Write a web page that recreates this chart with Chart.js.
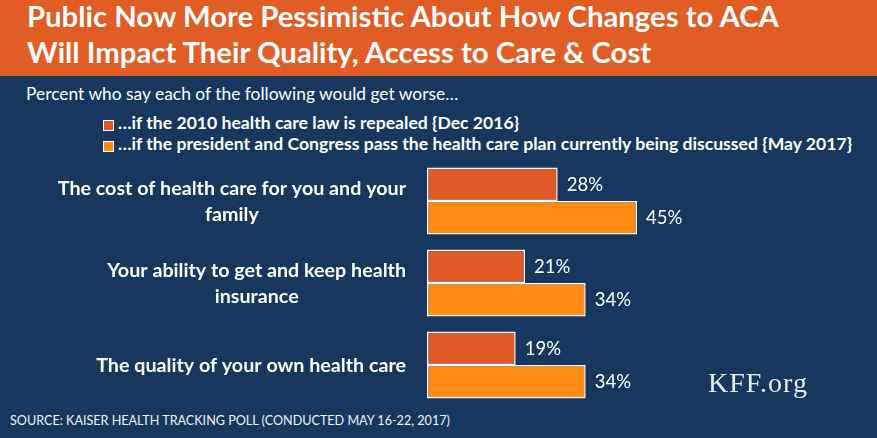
<!DOCTYPE html>
<html>
<head>
<meta charset="utf-8">
<title>Public Now More Pessimistic About How Changes to ACA Will Impact Their Quality, Access to Care &amp; Cost</title>
<script src="https://cdn.jsdelivr.net/npm/chart.js"></script>
<style>
    body { margin: 0; background: #17375e; }
    #page { position: relative; width: 877px; height: 438px; overflow: hidden; background: #17375e; color: #fff; font-family: Lato, "Open Sans", sans-serif; }
    #band { position: absolute; left: 0; top: 0; width: 877px; height: 76px; background: #e05d26; }
    .title { position: absolute; left: 27px; font-size: 29.3px; font-weight: bold; line-height: 1; white-space: nowrap; }
    #subtitle { position: absolute; left: 26px; top: 84.6px; font-size: 17.4px; line-height: 1; white-space: nowrap; }
    #legend { position: absolute; left: 103px; top: 114.4px; }
    .legend-item { position: relative; height: 21px; padding-left: 15px; font-size: 17.6px; font-weight: bold; line-height: 1; white-space: nowrap; }
    .legend-box { position: absolute; left: 0; top: 5.6px; width: 11px; height: 11px; box-sizing: border-box; border: 1px solid #fff; }
    #chart { position: absolute; left: 0; top: 160px; }
    #source { position: absolute; left: 10px; top: 414.8px; font-size: 12.6px; line-height: 1; white-space: nowrap; color: #f2f2f2; }
    #kff { position: absolute; left: 708px; top: 369px; font-family: "Liberation Serif", "DejaVu Serif", serif; font-size: 28px; letter-spacing: 1px; line-height: 1; color: #e6ecf3; }
</style>
</head>
<body>
<div id="page">
    <div id="band"></div>
    <div class="title" style="top: 1px;">Public Now More Pessimistic About How Changes to ACA</div>
    <div class="title" style="top: 36.5px;">Will Impact Their Quality, Access to Care &amp; Cost</div>
    <div id="subtitle">Percent who say each of the following would get worse…</div>
    <div id="legend"></div>
    <canvas id="chart" width="877" height="246"></canvas>
    <div id="source">SOURCE: KAISER HEALTH TRACKING POLL (CONDUCTED MAY 16-22, 2017)</div>
    <div id="kff">KFF.org</div>
</div>
<script>
const categories = [
    ['The cost of health care for you and your', 'family'],
    ['Your ability to get and keep health', 'insurance'],
    ['The quality of your own health care']
];
const seriesNames = [
    '…if the 2010 health care law is repealed {Dec 2016}',
    '…if the president and Congress pass the health care plan currently being discussed {May 2017}'
];
const repealedDec2016 = [28, 21, 19];
const planMay2017 = [45, 34, 34];

const LABEL_FONT = 'bold 19.7px Lato, sans-serif';
const VALUE_FONT = '18.5px Lato, sans-serif';

// category names, each block centred on itself and right-aligned against the bars
const categoryLabels = {
    id: 'categoryLabels',
    afterDraw(chart) {
        const {ctx, chartArea, scales: {y}} = chart;
        const lineHeight = 26;
        ctx.save();
        ctx.font = LABEL_FONT;
        ctx.fillStyle = '#ffffff';
        ctx.textAlign = 'center';
        ctx.textBaseline = 'alphabetic';
        const right = chartArea.left - 21;
        chart.data.labels.forEach((lines, i) => {
            const widest = Math.max(...lines.map(l => ctx.measureText(l).width));
            const cx = right - widest / 2;
            const first = y.getPixelForValue(i) + 7 - (lines.length - 1) * lineHeight / 2;
            lines.forEach((line, j) => ctx.fillText(line, cx, first + j * lineHeight));
        });
        ctx.restore();
    }
};

// percent labels at the end of each bar
const valueLabels = {
    id: 'valueLabels',
    afterDatasetsDraw(chart) {
        const {ctx} = chart;
        ctx.save();
        ctx.font = VALUE_FONT;
        ctx.fillStyle = '#ffffff';
        ctx.textAlign = 'left';
        ctx.textBaseline = 'alphabetic';
        chart.data.datasets.forEach((ds, d) => {
            chart.getDatasetMeta(d).data.forEach((bar, i) => {
                ctx.fillText(ds.data[i] + '%', bar.x + 9, bar.y + 6.5);
            });
        });
        ctx.restore();
    }
};

const chart = new Chart(document.getElementById('chart'), {
    type: 'bar',
    data: {
        labels: categories,
        datasets: [
            {
                label: seriesNames[0],
                data: repealedDec2016,
                backgroundColor: '#e05a28',
                borderColor: '#ffffff',
                borderWidth: 1.5,
                borderSkipped: false,
                categoryPercentage: 0.817,
                barPercentage: 1
            },
            {
                label: seriesNames[1],
                data: planMay2017,
                backgroundColor: '#ff8a14',
                borderColor: '#ffffff',
                borderWidth: 1.5,
                borderSkipped: false,
                categoryPercentage: 0.817,
                barPercentage: 1
            }
        ]
    },
    options: {
        indexAxis: 'y',
        responsive: false,
        animation: false,
        devicePixelRatio: 1,
        layout: {padding: {left: 427, right: 30, top: 0, bottom: 0}},
        scales: {
            x: {display: false, min: 0, max: 90},
            y: {display: false}
        },
        plugins: {
            legend: {display: false},
            tooltip: {enabled: false}
        }
    },
    plugins: [categoryLabels, valueLabels]
});

// html legend built from the chart's datasets
const legend = document.getElementById('legend');
chart.data.datasets.forEach(ds => {
    const item = document.createElement('div');
    item.className = 'legend-item';
    const box = document.createElement('span');
    box.className = 'legend-box';
    box.style.background = ds.backgroundColor;
    item.appendChild(box);
    item.appendChild(document.createTextNode(ds.label));
    legend.appendChild(item);
});
</script>
</body>
</html>
